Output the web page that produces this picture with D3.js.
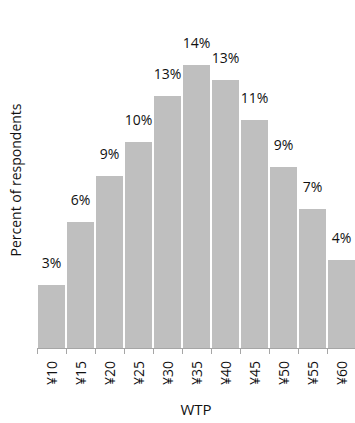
<!DOCTYPE html>
<html>
<head>
<meta charset="utf-8">
<script src="https://cdn.jsdelivr.net/npm/d3@7"></script>
<style>
  html, body { margin: 0; padding: 0; background: #fff; }
  svg { display: block; }
  text { font-family: "Open Sans", sans-serif; fill: #111; }
</style>
</head>
<body>
<script>
const categories = ["¥10","¥15","¥20","¥25","¥30","¥35","¥40","¥45","¥50","¥55","¥60"];
const values = [3.15, 6.3, 8.6, 10.3, 12.6, 14.15, 13.4, 11.4, 9.05, 6.95, 4.4];
const labels = ["3%","6%","9%","10%","13%","14%","13%","11%","9%","7%","4%"];

const W = 355, H = 423;
const svg = d3.select("body").append("svg").attr("width", W).attr("height", H);

const x = d3.scaleBand().domain(categories).range([37, 356]).paddingInner(0.07).paddingOuter(0.035);
const y = d3.scaleLinear().domain([0, 16]).range([348, 28]);

svg.selectAll("rect.bar").data(values).join("rect")
  .attr("class", "bar")
  .attr("x", (d, i) => x(categories[i]))
  .attr("width", x.bandwidth())
  .attr("y", d => y(d))
  .attr("height", d => y(0) - y(d))
  .attr("fill", "#bfbfbf");

svg.selectAll("text.lbl").data(values).join("text")
  .attr("class", "lbl")
  .attr("x", (d, i) => x(categories[i]) + x.bandwidth() / 2)
  .attr("y", d => y(d) - 17)
  .attr("text-anchor", "middle")
  .attr("font-size", 14)
  .text((d, i) => labels[i]);

svg.append("line")
  .attr("x1", 37).attr("x2", 356)
  .attr("y1", 348.5).attr("y2", 348.5)
  .attr("stroke", "#a6a6a6").attr("stroke-width", 1);

const bounds = categories.map((c, i) => x(c) - x.step() * x.paddingInner() / 2);
svg.selectAll("line.tick").data(bounds).join("line")
  .attr("class", "tick")
  .attr("x1", d => Math.round(d) + 0.5).attr("x2", d => Math.round(d) + 0.5)
  .attr("y1", 348.5).attr("y2", 354)
  .attr("stroke", "#a6a6a6");

svg.selectAll("text.tl").data(categories).join("text")
  .attr("class", "tl")
  .attr("transform", d => `translate(${x(d) + x.bandwidth() / 2 + 5},361) rotate(-90)`)
  .attr("text-anchor", "end")
  .attr("font-size", 14)
  .text(d => d);

svg.append("text")
  .attr("x", 196).attr("y", 415)
  .attr("text-anchor", "middle")
  .attr("font-size", 15)
  .text("WTP");

svg.append("text")
  .attr("transform", "translate(21,180) rotate(-90)")
  .attr("text-anchor", "middle")
  .attr("font-size", 14)
  .text("Percent of respondents");
</script>
</body>
</html>
